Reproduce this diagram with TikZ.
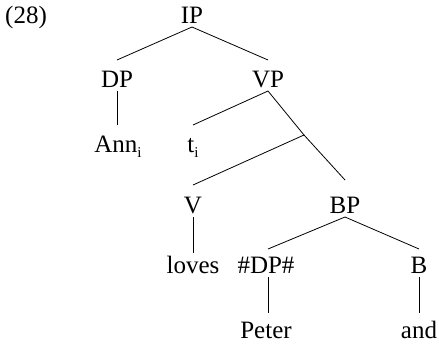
\documentclass[tikz,border=0pt]{standalone}
\usepackage{fontspec}
\setmainfont{Liberation Serif}
\newcommand{\subi}{\raisebox{-5pt}{\fontsize{15}{15}\selectfont i}}
\begin{document}
\begin{tikzpicture}[x=1pt,y=-1pt]
\tikzset{lbl/.style={anchor=base,inner sep=0pt,font=\fontsize{25}{25}\selectfont},
  edge/.style={line width=0.8pt}}
\useasboundingbox (0,0) rectangle (439,345);
\node[lbl,anchor=base west] (num) at (5,24) {(28)};
\node[lbl] (IP) at (192,24) {IP};
\node[lbl] (DP) at (117,88) {DP};
\node[lbl] (VP) at (268,88) {VP};
\node[lbl] (Ann) at (118,152) {Ann\subi};
\node[lbl] (t) at (193,152) {t\subi};
\coordinate (m) at (304,135);
\node[lbl] (V) at (193,213) {V};
\node[lbl] (BP) at (345,213) {BP};
\node[lbl] (loves) at (193,273) {loves};
\node[lbl] (hDP) at (266,273) {\#DP\#};
\node[lbl] (B) at (419,273) {B};
\node[lbl] (Peter) at (266,338) {Peter};
\node[lbl] (and) at (419,338) {and};
\draw[edge] ([yshift=-3pt]IP.base) -- ([yshift=28pt]DP.base);
\draw[edge] ([yshift=-3pt]IP.base) -- ([yshift=28pt]VP.base);
\draw[edge] ([yshift=-3pt]DP.base) -- ([yshift=27pt]DP.base |- Ann.base);
\draw[edge] ([yshift=-3pt]VP.base) -- ([yshift=27pt]t.base);
\draw[edge] ([yshift=-3pt]VP.base) -- (m);
\draw[edge] (m) -- ([yshift=33pt]BP.base);
\draw[edge] (m) -- ([yshift=28pt]V.base);
\draw[edge] ([yshift=-4pt]V.base) -- ([yshift=20pt]loves.base);
\draw[edge] ([yshift=-4pt]BP.base) -- ([xshift=2pt,yshift=24pt]hDP.base);
\draw[edge] ([yshift=-4pt]BP.base) -- ([yshift=24pt]B.base);
\draw[edge] ([xshift=2pt,yshift=-4pt]hDP.base) -- ([xshift=2pt,yshift=25pt]Peter.base);
\draw[edge] ([yshift=-4pt]B.base) -- ([yshift=25pt]and.base);
\end{tikzpicture}
\end{document}
